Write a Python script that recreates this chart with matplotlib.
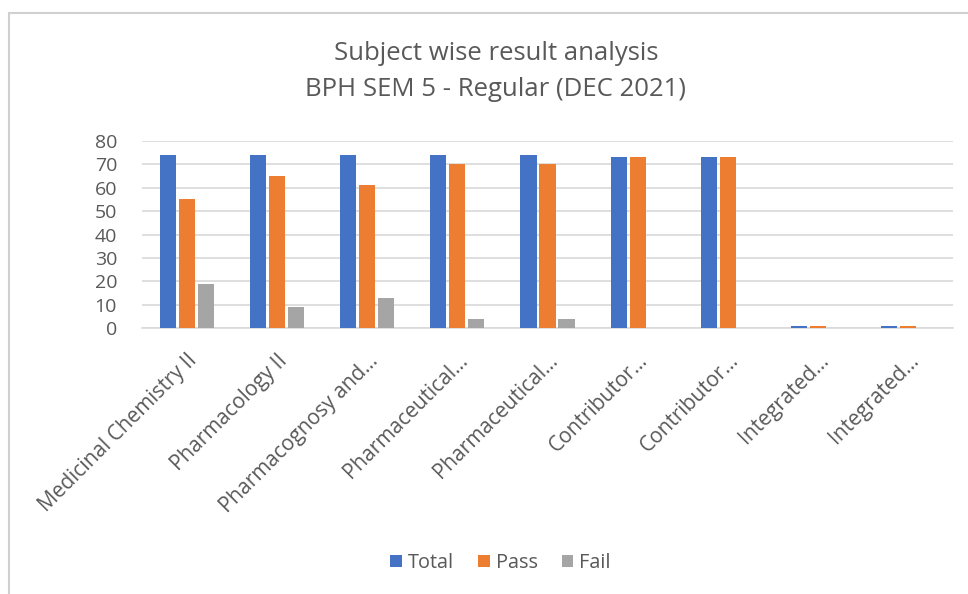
import numpy as np
import matplotlib
matplotlib.use('Agg')
import matplotlib.pyplot as plt
from matplotlib.patches import Rectangle

plt.rcParams['font.family'] = ['Open Sans', 'DejaVu Sans']

subjects = ['Medicinal Chemistry II', 'Pharmacology II', 'Pharmacognosy and...',
            'Pharmaceutical...', 'Pharmaceutical...', 'Contributor...',
            'Contributor...', 'Integrated...', 'Integrated...']
total = [74, 74, 74, 74, 74, 73, 73, 1, 1]
passed = [55, 65, 61, 70, 70, 73, 73, 1, 1]
failed = [19, 9, 13, 4, 4, 0, 0, 0, 0]

c_total = '#4472C4'
c_pass = '#ED7D31'
c_fail = '#A5A5A5'
txt = '#595959'

fig = plt.figure(figsize=(9.68, 5.94), dpi=100)
# chart border like the excel frame
fig.patches.append(Rectangle((9/968, -0.1), 1.1, 1 - 13/594 + 0.1, transform=fig.transFigure,
                             fill=False, edgecolor='#D0D0D0', linewidth=1.5))

ax = fig.add_axes([142/968, 1 - 328/594, 811/968, (328 - 141)/594])
x = np.arange(len(subjects))
w = 0.178
step = 0.211
ax.bar(x - step, total, w, color=c_total, label='Total', zorder=3)
ax.bar(x, passed, w, color=c_pass, label='Pass', zorder=3)
ax.bar(x + step, failed, w, color=c_fail, label='Fail', zorder=3)

ax.set_xlim(-0.5, len(subjects) - 0.5)
ax.set_ylim(0, 80)
ax.set_yticks(range(0, 81, 10))
ax.yaxis.grid(True, color='#D9D9D9', linewidth=1.2, zorder=0)
for s in ['top', 'right', 'left']:
    ax.spines[s].set_visible(False)
ax.spines['bottom'].set_color('#D9D9D9')
ax.spines['bottom'].set_linewidth(1.2)
ax.tick_params(axis='both', length=0, colors=txt)
ax.tick_params(axis='y', pad=18, labelsize=14)
ax.tick_params(axis='x', pad=16)
ax.set_xticks(x)
ax.set_xticklabels(subjects, rotation=45, ha='right', rotation_mode='anchor', fontsize=15)
for lab in ax.get_xticklabels():
    lab.set_color(txt)

fig.text(0.513, 1 - 53/594, 'Subject wise result analysis', ha='center', va='center',
         fontsize=18.5, color=txt)
fig.text(0.512, 1 - 89/594, 'BPH SEM 5 - Regular (DEC 2021)', ha='center', va='center',
         fontsize=18.5, color=txt)

fig.legend(loc='center', bbox_to_anchor=(0.517, 1 - 563/594), ncol=3, frameon=False,
           fontsize=14.3, labelcolor=txt, handlelength=0.6, handleheight=0.6,
           handletextpad=0.3, columnspacing=1.2)

fig.savefig('out.png', dpi=100, facecolor='white')
